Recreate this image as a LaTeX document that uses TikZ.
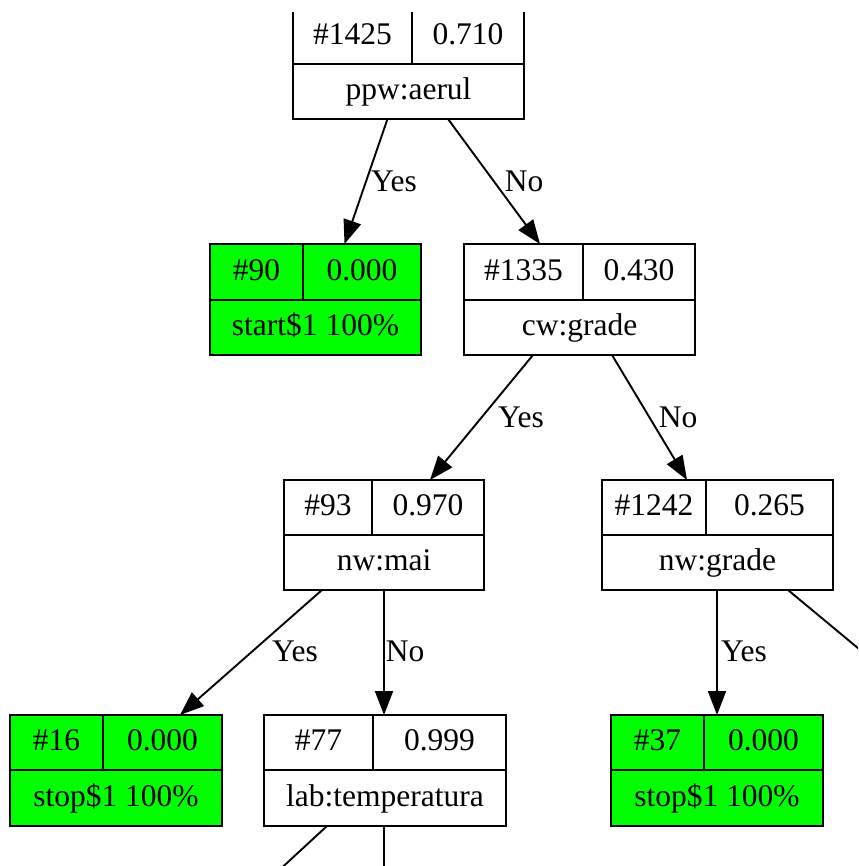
\documentclass[tikz,border=0pt]{standalone}
\usepackage{fontspec}
\setmainfont{Liberation Serif}
\usetikzlibrary{arrows.meta}
\definecolor{leafgreen}{HTML}{00FF00}
\tikzset{
  recbox/.style={draw=black, line width=1.9pt, inner sep=0pt, outer sep=0pt, anchor=north west},
  plainrec/.style={fill=white},
  leafrec/.style={fill=leafgreen},
  recline/.style={line width=1.9pt, draw=black},
  celltext/.style={anchor=base, inner sep=0pt, font=\fontsize{31.5}{36}\selectfont},
  edgelabel/.style={anchor=base, inner sep=0pt, font=\fontsize{31.5}{36}\selectfont},
  edgearrow/.style={line width=1.9pt, -{Triangle[length=24pt,width=18pt]}},
  edgeplain/.style={line width=1.9pt}
}
% geometry: left, top, right, mid, bottom, divider
\newcommand\setrec[6]{\def\rl{#1}\def\rt{#2}\def\rr{#3}\def\rm{#4}\def\rb{#5}\def\rd{#6}}
% name, style, id, value, label
\newcommand\drawrec[5]{%
  \node[recbox,#2, minimum width={\rr-\rl}, minimum height={\rb-\rt}] (#1) at (\rl,\rt) {};
  \draw[recline] (\rl,\rm) -- (\rr,\rm) (\rd,\rt) -- (\rd,\rm);
  \node[celltext] (#1-id) at ({(\rl+\rd)/2},{(\rt+\rm)/2+8}) {#3};
  \node[celltext] (#1-val) at ({(\rd+\rr)/2},{(\rt+\rm)/2+8}) {#4};
  \node[celltext] (#1-lab) at ({(\rl+\rr)/2},{(\rm+\rb)/2+8}) {#5};
}
\begin{document}
\begin{tikzpicture}[x=1pt,y=-1pt]
\useasboundingbox (0,0) rectangle (858,866);
\fill[white] (0,0) rectangle (858,866);
\clip (0,0) rectangle (858,866);

\setrec{293}{9}{524}{64}{119}{412}
\drawrec{n1425}{plainrec}{\#1425}{0.710}{ppw:aerul}

\setrec{210}{244}{421}{300}{355}{303}
\drawrec{n90}{leafrec}{\#90}{0.000}{start\$1 100\%}

\setrec{464}{244}{695}{300}{355}{583}
\drawrec{n1335}{plainrec}{\#1335}{0.430}{cw:grade}

\setrec{284}{480}{484}{535}{590}{372}
\drawrec{n93}{plainrec}{\#93}{0.970}{nw:mai}

\setrec{602}{480}{833}{535}{590}{706}
\drawrec{n1242}{plainrec}{\#1242}{0.265}{nw:grade}

\setrec{10}{715}{222}{770}{826}{103}
\drawrec{n16}{leafrec}{\#16}{0.000}{stop\$1 100\%}

\setrec{264}{715}{506}{770}{826}{373}
\drawrec{n77}{plainrec}{\#77}{0.999}{lab:temperatura}

\setrec{611}{715}{823}{770}{826}{704}
\drawrec{n37}{leafrec}{\#37}{0.000}{stop\$1 100\%}

% the top of the picture is cut off just below the first box's top edge
\fill[white] (0,0) rectangle (858,12);

% free ends of edges leaving the picture
\coordinate (off1242) at (906,688);
\coordinate (off77a) at (262,886);
\coordinate (off77b) at (384,900);

% edges
\draw[edgearrow] ([xshift=-21]n1425.south) -- ([xshift=29]n90.north);
\draw[edgearrow] ([xshift=39.5]n1425.south) -- ([xshift=-39.5]n1335.north);
\draw[edgearrow] ([xshift=-46.5]n1335.south) -- ([xshift=46]n93.north);
\draw[edgearrow] ([xshift=32.5]n1335.south) -- ([xshift=-30.5]n1242.north);
\draw[edgearrow] ([xshift=-62]n93.south) -- ([xshift=64]n16.north);
\draw[edgearrow] ([xshift=0]n93.south) -- ([xshift=-1]n77.north);
\draw[edgearrow] ([xshift=-0.5]n1242.south) -- ([xshift=0]n37.north);
\draw[edgeplain] ([xshift=70.5]n1242.south) -- (off1242);
\draw[edgeplain] ([xshift=-58]n77.south) -- (off77a);
\draw[edgeplain] ([xshift=-1]n77.south) -- (off77b);

% edge labels
\node[edgelabel] (l1) at (394,192) {Yes};
\node[edgelabel] (l2) at (524,192) {No};
\node[edgelabel] (l3) at (521,427) {Yes};
\node[edgelabel] (l4) at (678,427) {No};
\node[edgelabel] (l5) at (295,661) {Yes};
\node[edgelabel] (l6) at (405,661) {No};
\node[edgelabel] (l7) at (744,661) {Yes};
\end{tikzpicture}
\end{document}
